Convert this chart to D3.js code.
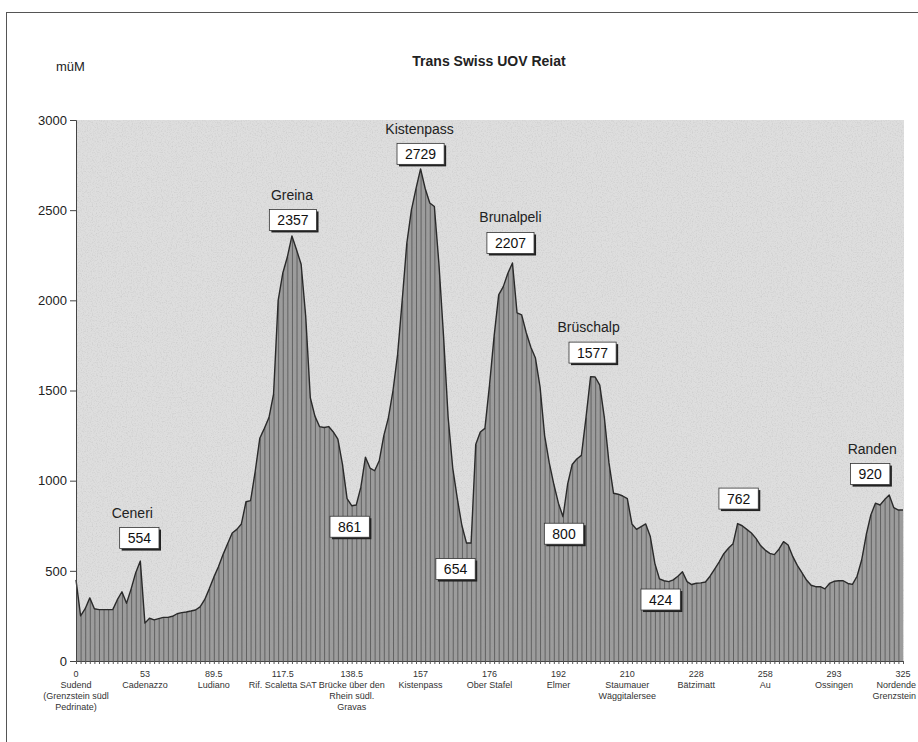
<!DOCTYPE html>
<html>
<head>
<meta charset="utf-8">
<script src="https://cdn.jsdelivr.net/npm/d3@7"></script>
<style>
  html, body { margin: 0; padding: 0; background: #ffffff; }
  svg { display: block; }
  text { font-family: "Liberation Sans", Arial, sans-serif; }
</style>
</head>
<body>
<svg id="chart" width="918" height="742"></svg>
<script>
// ---------------- DATA ----------------
const chartTitle = "Trans Swiss UOV Reiat";
const yUnit = "müM";

// elevation (m ü. M.) at each category position along the route
const elevation = [
  450, 250, 290, 350, 290, 285, 285, 285, 285, 340,
  384, 320, 400, 490, 554, 210, 237, 228, 235, 242,
  242, 248, 262, 268, 272, 277, 283, 300, 340, 400,
  465, 523, 590, 650, 710, 730, 760, 883, 889, 1050,
  1235, 1290, 1350, 1480, 2000, 2150, 2240, 2357, 2280, 2200,
  1910, 1460, 1358, 1300, 1295, 1300, 1270, 1230, 1090, 900,
  861, 865, 964, 1130, 1070, 1055, 1110, 1250, 1350, 1500,
  1700, 2000, 2316, 2500, 2620, 2729, 2620, 2540, 2520, 2200,
  1800, 1350, 1070, 900, 750, 654, 654, 1200, 1270, 1290,
  1530, 1800, 2030, 2076, 2150, 2207, 1930, 1919, 1820, 1740,
  1680, 1520, 1250, 1100, 980, 875, 800, 980, 1090, 1120,
  1140, 1350, 1577, 1575, 1530, 1350, 1100, 930, 925, 915,
  900, 760, 730, 745, 760, 690, 540, 455, 445, 440,
  450, 470, 495, 440, 424, 431, 433, 438, 470, 510,
  550, 595, 625, 650, 762, 750, 730, 710, 680, 640,
  615, 597, 590, 620, 662, 643, 580, 530, 490, 449,
  420, 412, 412, 400, 430, 442, 445, 445, 430, 425,
  470, 560, 700, 810, 875, 865, 895, 920, 850, 837,
  837
];

// labelled x-axis positions (category index), km and place names
const tickIndex = [0, 15, 30, 45, 60, 75, 90, 105, 120, 135, 150, 165, 180];
const tickKm = ["0", "53", "89.5", "117.5", "138.5", "157", "176", "192", "210", "228", "258", "293", "325"];
const tickPlaces = [
  ["Sudend", "(Grenzstein südl", "Pedrinate)"],
  ["Cadenazzo"],
  ["Ludiano"],
  ["Rif. Scaletta SAT"],
  ["Brücke über den", "Rhein südl.", "Gravas"],
  ["Kistenpass"],
  ["Ober Stafel"],
  ["Elmer"],
  ["Staumauer", "Wäggitalersee"],
  ["Bätzimatt"],
  ["Au"],
  ["Ossingen"],
  ["Nordende", "Grenzstein"]
];

const yTicks = [0, 500, 1000, 1500, 2000, 2500, 3000];

// annotated points
const annotIndex = [14, 47, 75, 95, 112, 60, 85, 106, 134, 144, 177];
const annotValue = ["554", "2357", "2729", "2207", "1577", "861", "654", "800", "424", "762", "920"];
const annotName  = ["Ceneri", "Greina", "Kistenpass", "Brunalpeli", "Brüschalp", "", "", "", "", "", "Randen"];

// ---------------- LAYOUT ----------------
const plotLeft = 76, plotRight = 903, plotTop = 120, plotBottom = 661;
// box centre offsets relative to annotated point, and name offsets relative to box centre
const annotBoxOffset = [[-1, -23], [1, -16], [0, -15], [-2, -20], [2, -24], [-2, 21], [-11, 26], [1, 17], [-31, 15], [1, -25], [-19, -21]];
const annotNameOffset = [[-7, -20], [-1, -20], [-1, -20], [0, -21], [-4, -21], [0, 0], [0, 0], [0, 0], [0, 0], [0, 0], [2, -20]];

const svg = d3.select("#chart");
const defs = svg.append("defs");

// speckle texture for the scanned look
const f1 = defs.append("filter").attr("id", "noise")
  .attr("x", 0).attr("y", 0).attr("width", 1).attr("height", 1);
f1.append("feTurbulence").attr("type", "fractalNoise").attr("baseFrequency", 0.8)
  .attr("numOctaves", 2).attr("seed", 4).attr("result", "t");
f1.append("feColorMatrix").attr("type", "matrix")
  .attr("values", "0 0 0 0 0.35  0 0 0 0 0.35  0 0 0 0 0.35  1 0 0 0 -0.45");

const x = d3.scaleLinear().domain([0, elevation.length - 1]).range([plotLeft, plotRight]);
const y = d3.scaleLinear().domain([0, 3000]).range([plotBottom, plotTop]);

// outer frame
svg.append("rect").attr("x", 6.5).attr("y", 12.5).attr("width", 930).attr("height", 740)
  .attr("fill", "none").attr("stroke", "#555").attr("stroke-width", 1);

// plot background
svg.append("rect").attr("x", plotLeft).attr("y", plotTop)
  .attr("width", plotRight - plotLeft + 1).attr("height", plotBottom - plotTop)
  .attr("fill", "#dedede");
svg.append("rect").attr("x", plotLeft).attr("y", plotTop)
  .attr("width", plotRight - plotLeft + 1).attr("height", plotBottom - plotTop)
  .attr("fill", "#fff").attr("filter", "url(#noise)").attr("opacity", 0.6);

// area
const area = d3.area().x((d, i) => x(i)).y0(y(0)).y1(d => y(d));
defs.append("clipPath").attr("id", "areaClip").append("path").attr("d", area(elevation));
svg.append("path").attr("d", area(elevation)).attr("fill", "#9c9c9c");
const ag = svg.append("g").attr("clip-path", "url(#areaClip)");
ag.append("rect").attr("x", plotLeft).attr("y", plotTop)
  .attr("width", plotRight - plotLeft).attr("height", plotBottom - plotTop)
  .attr("fill", "#fff").attr("filter", "url(#noise)").attr("opacity", 0.9);
// drop lines at every category
ag.selectAll("line.drop").data(elevation).enter().append("line")
  .attr("x1", (d, i) => x(i) + 0.5).attr("x2", (d, i) => x(i) + 0.5)
  .attr("y1", y(0)).attr("y2", d => y(d))
  .attr("stroke", "#626262").attr("stroke-width", 1);

const line = d3.line().x((d, i) => x(i)).y(d => y(d));
svg.append("path").attr("d", line(elevation)).attr("fill", "none")
  .attr("stroke", "#2a2a2a").attr("stroke-width", 1.4).attr("stroke-linejoin", "round");

// y axis
const yAxis = svg.append("g").attr("transform", `translate(${plotLeft},0)`)
  .call(d3.axisLeft(y).tickValues(yTicks).tickSize(6).tickPadding(3).tickFormat(d3.format("d")));
yAxis.select(".domain").attr("stroke", "#444");
yAxis.selectAll(".tick line").attr("stroke", "#444");
yAxis.selectAll("text").attr("font-size", 13).attr("fill", "#222")
  .style("font-family", "'Liberation Sans', Arial, sans-serif");

// x axis with minor ticks at every category
const xAxis = svg.append("g").attr("transform", `translate(0,${plotBottom})`)
  .call(d3.axisBottom(x).tickValues(d3.range(elevation.length)).tickSize(3).tickFormat(""));
xAxis.select(".domain").attr("stroke", "#444");
xAxis.selectAll(".tick line").attr("stroke", "#555");

// x labels
const xl = svg.append("g").attr("fill", "#333").attr("font-size", 9);
tickIndex.forEach((ti, k) => {
  const last = k === tickIndex.length - 1;
  const t = xl.append("text").attr("x", x(ti)).attr("y", 677).attr("text-anchor", "middle");
  t.append("tspan").attr("x", x(ti)).attr("dy", 0).text(tickKm[k]);
  tickPlaces[k].forEach((p) => {
    // the last label sits at the page edge: right-align it so it stays visible
    t.append("tspan").attr("x", last ? 916 : x(ti)).attr("dy", 11)
      .attr("text-anchor", last ? "end" : "middle").text(p);
  });
});

// title & unit
svg.append("text").attr("x", 489).attr("y", 66).attr("text-anchor", "middle")
  .attr("font-size", 14).attr("font-weight", "bold").attr("fill", "#222").text(chartTitle);
svg.append("text").attr("x", 56).attr("y", 71).attr("font-size", 13).attr("fill", "#222").text(yUnit);

// annotations
const an = svg.append("g");
annotIndex.forEach((ai, k) => {
  const px = x(ai), py = y(elevation[ai]);
  const cx = px + annotBoxOffset[k][0], cy = py + annotBoxOffset[k][1];
  const g = an.append("g");
  const txt = g.append("text").attr("x", cx).attr("y", cy + 5).attr("text-anchor", "middle")
    .attr("font-size", 14).attr("fill", "#111").text(annotValue[k]);
  const w = txt.node().getComputedTextLength() + 16, h = 21;
  g.insert("rect", "text").attr("x", cx - w / 2 + 2).attr("y", cy - h / 2 + 2)
    .attr("width", w).attr("height", h).attr("fill", "#222");
  g.insert("rect", "text").attr("x", cx - w / 2).attr("y", cy - h / 2)
    .attr("width", w).attr("height", h).attr("fill", "#fff").attr("stroke", "#333").attr("stroke-width", 0.8);
  if (annotName[k]) {
    an.append("text").attr("x", cx + annotNameOffset[k][0]).attr("y", cy + annotNameOffset[k][1])
      .attr("text-anchor", "middle").attr("font-size", 14).attr("fill", "#222").text(annotName[k]);
  }
});
</script>
</body>
</html>
